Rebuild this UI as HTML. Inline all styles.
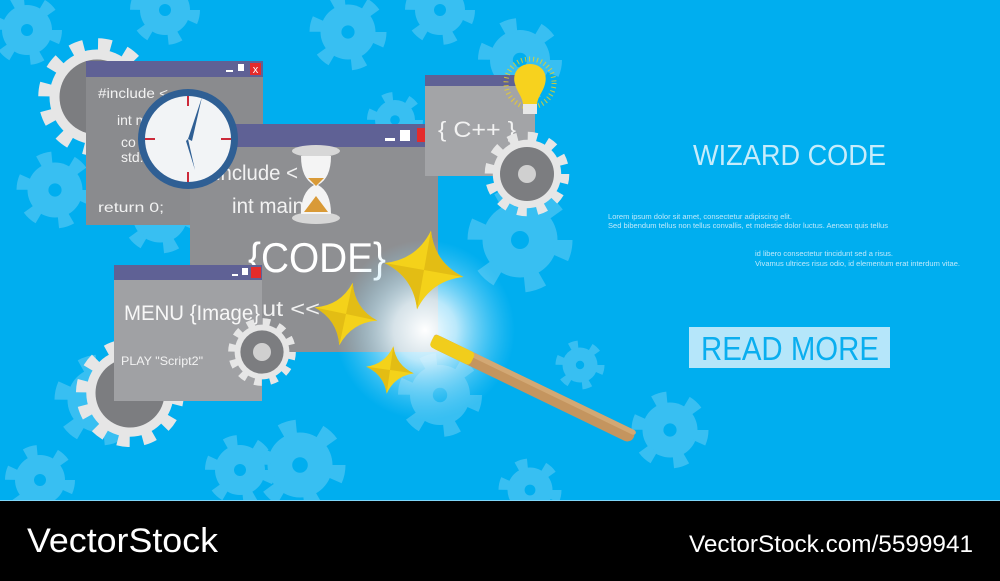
<!DOCTYPE html>
<html><head><meta charset="utf-8"><style>
html,body{margin:0;padding:0;width:1000px;height:581px;overflow:hidden;background:#000}
svg{display:block}
</style></head><body>
<svg width="1000" height="581" viewBox="0 0 1000 581" xmlns="http://www.w3.org/2000/svg" font-family="Liberation Sans, sans-serif">
<defs>
<radialGradient id="glow" cx="0.5" cy="0.5" r="0.5">
<stop offset="0" stop-color="#ffffff" stop-opacity="1"/>
<stop offset="0.35" stop-color="#e8f7fe" stop-opacity="0.8"/>
<stop offset="1" stop-color="#7fd6f8" stop-opacity="0"/>
</radialGradient>
<g id="bg">
<circle r="25" fill="#38bff2"/>
<circle r="29" fill="none" stroke="#38bff2" stroke-width="12" stroke-dasharray="12 18.4"/>
<circle r="6" fill="#00aeef"/>
</g>
<g id="gear">
<circle r="40" fill="none" stroke="#e6e6e6" stroke-width="14" stroke-dasharray="10 11"/>
<circle r="38" fill="#e6e6e6"/>
<circle r="30" fill="#7c7d80"/>
</g>
<g id="spark">
<path d="M0,-40 Q9,-9 40,0 Q9,9 0,40 Q-9,9 -40,0 Q-9,-9 0,-40Z" fill="#f4d21a"/>
<path d="M0,-40 Q9,-9 40,0 L0,0Z" fill="#e3bd14"/>
<path d="M0,40 Q-9,9 -40,0 L0,0Z" fill="#e3bd14"/>
</g>
</defs>
<rect width="1000" height="500" fill="#00aeef"/>
<!-- background gears -->
<use href="#bg" transform="translate(27,30)"/>
<use href="#bg" transform="translate(165,10)"/>
<use href="#bg" transform="translate(348,32) scale(1.1)"/>
<use href="#bg" transform="translate(440,10)"/>
<use href="#bg" transform="translate(520,60) scale(1.2)"/>
<use href="#bg" transform="translate(55,190) scale(1.1)"/>
<use href="#bg" transform="translate(160,215) scale(1.1)"/>
<use href="#bg" transform="translate(520,240) scale(1.5)"/>
<use href="#bg" transform="translate(580,365) scale(0.7)"/>
<use href="#bg" transform="translate(100,400) scale(1.3)"/>
<use href="#bg" transform="translate(300,465) scale(1.3)"/>
<use href="#bg" transform="translate(440,395) scale(1.2)"/>
<use href="#bg" transform="translate(670,430) scale(1.1)"/>
<use href="#bg" transform="translate(40,480)"/>
<use href="#bg" transform="translate(530,490) scale(0.9)"/>
<use href="#bg" transform="translate(395,120) scale(0.8)"/>
<use href="#bg" transform="translate(240,470)"/>
<!-- gears behind windows -->
<use href="#gear" transform="translate(97,97) scale(1.25)"/>
<use href="#gear" transform="translate(130,393) scale(1.15)"/>
<!-- window 1 -->
<rect x="86" y="61" width="177" height="164" fill="#8a8b8e"/>
<rect x="86" y="61" width="177" height="16" fill="#5f6195"/>
<rect x="226" y="70" width="7" height="2" fill="#fff"/><rect x="238" y="64" width="6" height="7" fill="#fff"/>
<rect x="250" y="63" width="11" height="12" fill="#e52b2b"/><text x="255.5" y="73" font-size="11" fill="#fff" text-anchor="middle">x</text>
<g fill="#f2f2f2" font-size="14">
<text x="98" y="98" textLength="70" lengthAdjust="spacingAndGlyphs">#include &lt;</text><text x="117" y="125">int m</text>
<text x="121" y="147">co</text><text x="121" y="162">std:</text>
<text x="98" y="212" textLength="66" lengthAdjust="spacingAndGlyphs">return 0;</text></g>
<!-- main window -->
<rect x="190" y="124" width="248" height="228" fill="#8e8f92"/>
<rect x="190" y="124" width="248" height="23" fill="#5f6195"/>
<rect x="385" y="138" width="10" height="3" fill="#fff"/><rect x="400" y="130" width="10" height="11" fill="#fff"/>
<rect x="417" y="128" width="12" height="14" fill="#e52b2b"/>
<text x="216" y="180" font-size="21" fill="#f2f2f2" textLength="82" lengthAdjust="spacingAndGlyphs">include &lt;</text>
<text x="232" y="213" font-size="21" fill="#f2f2f2" textLength="72" lengthAdjust="spacingAndGlyphs">int main</text>
<text x="248" y="272" font-size="42" fill="#fff" textLength="138" lengthAdjust="spacingAndGlyphs">{CODE}</text>
<text x="262" y="316" font-size="21" fill="#f2f2f2" textLength="58" lengthAdjust="spacingAndGlyphs">ut &lt;&lt;</text>
<!-- hourglass -->
<ellipse cx="316" cy="151" rx="24" ry="6" fill="#d7d7d7"/>
<ellipse cx="316" cy="218" rx="24" ry="6" fill="#d7d7d7"/>
<path d="M301,156 L331,156 Q331,178 318,185 Q331,192 331,214 L301,214 Q301,192 314,185 Q301,178 301,156Z" fill="#f4f4f4"/>
<path d="M308,178 L324,178 L316,186Z" fill="#d99a37"/>
<path d="M316,196 L328,212 L304,212Z" fill="#d99a37"/>
<!-- clock -->
<circle cx="188" cy="139" r="50" fill="#2f5f94"/>
<circle cx="188" cy="139" r="43" fill="#f2f4f6"/>
<g stroke="#cc2a3a" stroke-width="2"><line x1="188" y1="96" x2="188" y2="106"/><line x1="188" y1="172" x2="188" y2="182"/><line x1="145" y1="139" x2="155" y2="139"/><line x1="221" y1="139" x2="231" y2="139"/></g>
<path d="M188,139 L202,97 L192,141Z" fill="#2f5f94"/>
<path d="M188,139 L195,170 L186,141Z" fill="#2f5f94"/>
<!-- C++ window -->
<rect x="425" y="75" width="110" height="101" fill="#a3a4a7"/>
<rect x="425" y="75" width="110" height="11" fill="#5f6195"/>
<text x="438" y="137" font-size="22" fill="#f2f2f2" textLength="78" lengthAdjust="spacingAndGlyphs">{ C++ }</text>
<use href="#gear" transform="translate(527,174) scale(0.9)"/>
<circle cx="527" cy="174" r="9" fill="#d0d0d0"/>
<!-- bulb -->
<circle cx="530" cy="83" r="24" fill="none" stroke="#f4d21a" stroke-width="5" stroke-dasharray="1 3" opacity="0.8"/>
<path d="M530,64 C518,64 512,74 515,84 C517,92 522,96 523,104 L537,104 C538,96 543,92 545,84 C548,74 542,64 530,64Z" fill="#f7d21e"/>
<rect x="523" y="104" width="14" height="10" fill="#e8e8e8"/>
<!-- menu window -->
<rect x="114" y="265" width="148" height="136" fill="#a0a1a4"/>
<rect x="114" y="265" width="148" height="15" fill="#5f6195"/>
<rect x="232" y="274" width="6" height="2" fill="#fff"/><rect x="242" y="268" width="6" height="7" fill="#fff"/>
<rect x="251" y="267" width="10" height="11" fill="#e52b2b"/>
<text x="124" y="320" font-size="21" fill="#f7f7f7" textLength="136" lengthAdjust="spacingAndGlyphs">MENU {Image}</text>
<text x="121" y="365" font-size="12" fill="#f2f2f2" textLength="82" lengthAdjust="spacingAndGlyphs">PLAY "Script2"</text>
<use href="#gear" transform="translate(262,352) scale(0.72)"/>
<circle cx="262" cy="352" r="9" fill="#d0d0d0"/>
<!-- glow -->
<circle cx="425" cy="330" r="90" fill="url(#glow)"/>
<!-- sparkles -->
<use href="#spark" transform="translate(424,270) rotate(10) scale(1)"/>
<use href="#spark" transform="translate(346,314) rotate(12) scale(0.8)"/>
<use href="#spark" transform="translate(390,370) rotate(8) scale(0.6)"/>
<!-- wand -->
<g transform="translate(432,340) rotate(25.8)">
<rect x="0" y="-7" width="224" height="14" rx="7" fill="#c4955f"/>
<rect x="0" y="-7" width="224" height="5" rx="3" fill="#d2a874"/>
<rect x="0" y="-7" width="45" height="14" rx="4" fill="#f1cd1c"/>
</g>
<!-- right text -->
<text x="693" y="165" font-size="29" fill="#c6ecfb" textLength="193" lengthAdjust="spacingAndGlyphs">WIZARD CODE</text>
<g font-size="7" fill="#bfe9fb">
<text x="608" y="219" textLength="184" lengthAdjust="spacingAndGlyphs">Lorem ipsum dolor sit amet, consectetur adipiscing elit.</text>
<text x="608" y="228" textLength="280" lengthAdjust="spacingAndGlyphs">Sed bibendum tellus non tellus convallis, et molestie dolor luctus. Aenean quis tellus</text>
<text x="755" y="256" textLength="138" lengthAdjust="spacingAndGlyphs">id libero consectetur tincidunt sed a risus.</text>
<text x="755" y="266" textLength="205" lengthAdjust="spacingAndGlyphs">Vivamus ultrices risus odio, id elementum erat interdum vitae.</text>
</g>
<rect x="689" y="327" width="201" height="41" fill="#b5e6fa"/>
<text x="701" y="360" font-size="33" fill="#0aaeef" textLength="178" lengthAdjust="spacingAndGlyphs">READ MORE</text>
<!-- bottom bar -->
<rect x="0" y="500" width="1000" height="81" fill="#000"/>
<line x1="0" y1="500.5" x2="1000" y2="500.5" stroke="#7fd6f8" stroke-width="1"/>
<text x="27" y="552" font-size="34" fill="#fff" textLength="191" lengthAdjust="spacingAndGlyphs">VectorStock</text>
<text x="689" y="552" font-size="24" fill="#fff" textLength="284" lengthAdjust="spacingAndGlyphs">VectorStock.com/5599941</text>
</svg>
</body></html>
